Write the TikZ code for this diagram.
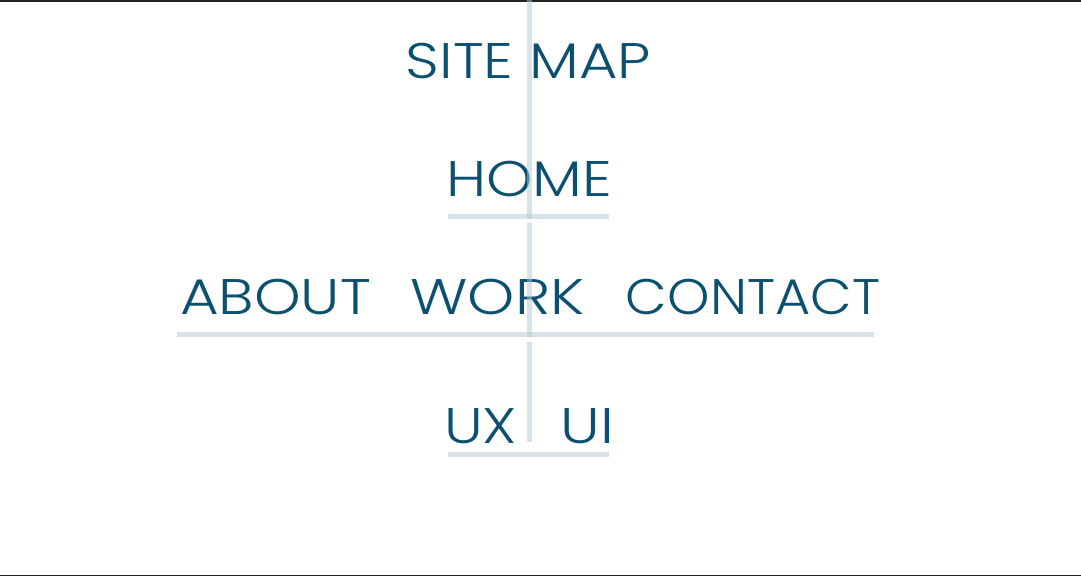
\documentclass[tikz,border=0pt]{standalone}
\usepackage{fontspec}
\IfFontExistsTF{Poppins Light}
  {\newfontfamily\mapfont{Poppins Light}}
  {\newfontfamily\mapfont{Poppins}}
\definecolor{ink}{HTML}{0B5070}
\definecolor{rule}{HTML}{AFC8D1}
\definecolor{frame}{HTML}{222222}
% widen a label horizontally by a factor
\newcommand\wide[2]{\scalebox{#1}[1]{#2}}
\tikzset{
  label/.style={anchor=base, inner sep=0pt, text=ink, font=\mapfont\fontsize{50}{50}\selectfont},
  bar/.style={draw=rule, line width=5pt, opacity=0.5},
  link/.style={draw=rule, line width=5pt, opacity=0.5},
}
\begin{document}
\begin{tikzpicture}[x=1pt, y=-1pt]
  \useasboundingbox (0,0) rectangle (1081,576);
  % frame lines
  \draw[frame, line width=1.5pt] (0,0.75) -- (1081,0.75);
  \draw[frame, line width=1.5pt] (0,575.25) -- (1081,575.25);

  % labels
  \node[label] (title)   at (528.5,78)  {\wide{1.18}{SITE MAP}};
  \node[label] (home)    at (529,196)   {\wide{1.18}{HOME}};
  \node[label] (about)   at (275.5,314) {\wide{1.186}{ABOUT}};
  \node[label] (work)    at (497.5,314) {\wide{1.2}{WORK}};
  \node[label] (contact) at (753,314)   {\wide{1.08}{CONTACT}};
  \node[label] (ux)      at (480.5,443) {\wide{1.17}{UX}};
  \node[label] (ui)      at (587.5,443) {\wide{1.2}{UI}};

  % underlines of each level
  \coordinate (homeL) at (448,216.5);
  \coordinate (homeR) at (609,216.5);
  \coordinate (topL)  at (177,334.5);
  \coordinate (topR)  at (874,334.5);
  \coordinate (subL)  at (448,454.5);
  \coordinate (subR)  at (609,454.5);
  \draw[bar] (homeL) -- (homeR);
  \draw[bar] (topL) -- (topR);
  \draw[bar] (subL) -- (subR);

  % spine joining the levels
  \coordinate (s0) at (529.5,0);
  \coordinate (s1) at (529.5,219);
  \coordinate (s2) at (529.5,223);
  \coordinate (s3) at (529.5,337);
  \coordinate (s4) at (529.5,342);
  \coordinate (s5) at (529.5,442);
  \draw[link] (s0) -- (s1);
  \draw[link] (s2) -- (s3);
  \draw[link] (s4) -- (s5);
\end{tikzpicture}
\end{document}
